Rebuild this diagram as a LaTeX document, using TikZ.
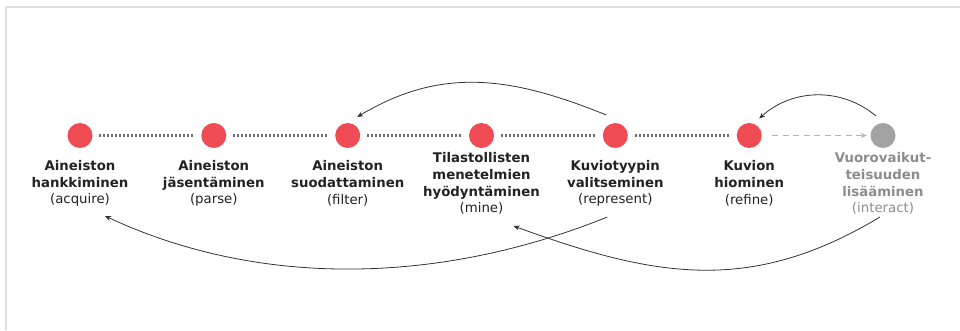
\documentclass[tikz,border=0pt]{standalone}
\usepackage{fontspec}
\setmainfont{DejaVu Sans}
\usetikzlibrary{positioning, arrows.meta, calc}
\definecolor{stagered}{HTML}{EF4B55}
\definecolor{stagegray}{HTML}{A3A3A3}
\definecolor{linkgray}{HTML}{6E6E6E}
\definecolor{dashgray}{HTML}{B3B3B3}
\definecolor{txtdark}{HTML}{222222}
\definecolor{txtgray}{HTML}{8C8C8C}
\definecolor{framegray}{HTML}{DEDEDE}
\newcommand{\stagetag}[1]{{\mdseries(#1)}}

\begin{document}
\begin{tikzpicture}[x=1pt, y=-1pt, >=Stealth, every node/.style={align=center},
    stage/.style={circle, fill=stagered, minimum size=25pt, inner sep=0pt},
    stagelbl/.style={font=\fontsize{13.3}{16.7}\selectfont\bfseries, text=txtdark, inner sep=0pt},
    chain/.style={linkgray, line width=2.1pt, dash pattern=on 2pt off 2pt, shorten <=6.5pt, shorten >=6.5pt},
    loopback/.style={draw=black!80, line width=0.8pt, -{Stealth[length=6pt, width=5pt]}}]
    \useasboundingbox (0,0) rectangle (960,330);
    % Frame
    \draw[framegray, line width=2pt] (6,330) -- (6,7) -- (960,7);
    % Stages
    \node[stage] (acq) at (80,135.5) {};
    \node[stage] (par) at (213.8,135.5) {};
    \node[stage] (fil) at (347.7,135.5) {};
    \node[stage] (min) at (481.5,135.5) {};
    \node[stage] (rep) at (615.3,135.5) {};
    \node[stage] (ref) at (749.2,135.5) {};
    \node[stage, fill=stagegray] (int) at (883,135.5) {};
    % Stage labels
    \node[stagelbl] (acq-t) at ($(acq)+(0,48)$) {Aineiston\\hankkiminen\\\stagetag{acquire}};
    \node[stagelbl] (par-t) at ($(par)+(0,48)$) {Aineiston\\jäsentäminen\\\stagetag{parse}};
    \node[stagelbl] (fil-t) at ($(fil)+(0,48)$) {Aineiston\\suodattaminen\\\stagetag{filter}};
    \node[stagelbl] (min-t) at ($(min)+(0,48)$) {Tilastollisten\\menetelmien\\hyödyntäminen\\\stagetag{mine}};
    \node[stagelbl] (rep-t) at ($(rep)+(0,48)$) {Kuviotyypin\\valitseminen\\\stagetag{represent}};
    \node[stagelbl] (ref-t) at ($(ref)+(0,48)$) {Kuvion\\hiominen\\\stagetag{refine}};
    \node[stagelbl, text=txtgray] (int-t) at ($(int)+(0,48)$) {Vuorovaikut-\\teisuuden\\lisääminen\\\stagetag{interact}};
    % Dotted chain
    \foreach \a/\b in {acq/par, par/fil, fil/min, min/rep, rep/ref}
        \draw[chain] (\a) -- (\b);
    % Optional step
    \draw[dashgray, line width=1.3pt, dash pattern=on 6pt off 4.5pt, shorten <=10.5pt, shorten >=3.5pt,
        -{Stealth[length=6pt, width=5pt]}] (ref) -- (int);
    % Loop-back arcs
    \coordinate (a1s) at ($(rep)+(-9,-20.5)$);
    \coordinate (a1e) at ($(fil)+(9.5,-18.5)$);
    \coordinate (a2s) at ($(int)+(-7,-19.5)$);
    \coordinate (a2e) at ($(ref)+(10,-17)$);
    \coordinate (a3s) at ($(rep)+(-8,81.5)$);
    \coordinate (a3e) at ($(acq)+(25,80.5)$);
    \coordinate (a4s) at ($(int)+(-3,81.5)$);
    \coordinate (a4e) at ($(min)+(32,90.5)$);
    \draw[loopback] (a1s) .. controls +(158:100pt) and +(31:100pt) .. (a1e);
    \draw[loopback] (a2s) .. controls +(140:45pt) and +(42:45pt) .. (a2e);
    \draw[loopback] (a3s) .. controls +(202:175pt) and +(-25:175pt) .. (a3e);
    \draw[loopback] (a4s) .. controls +(211:151pt) and +(-20:151pt) .. (a4e);
\end{tikzpicture}
\end{document}
